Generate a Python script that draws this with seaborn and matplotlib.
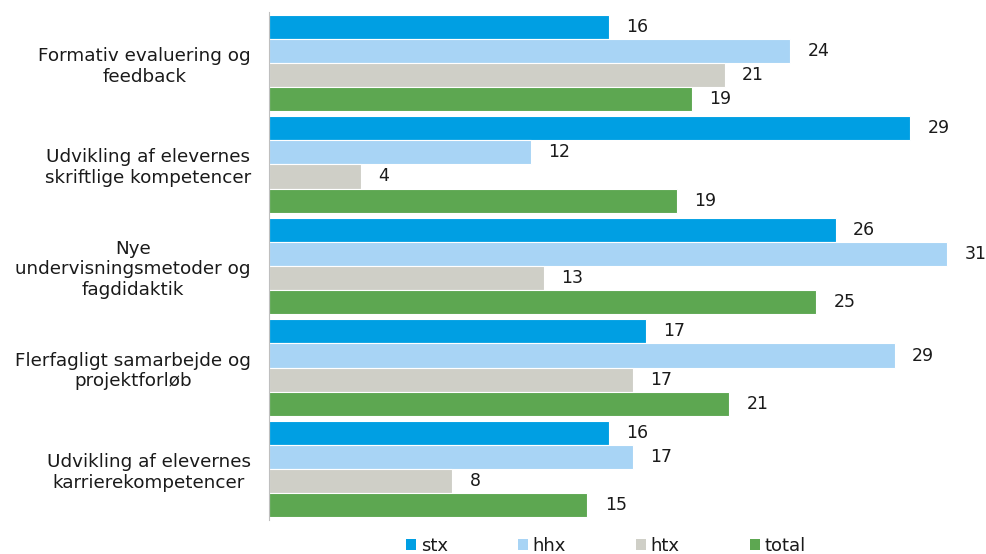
import matplotlib
matplotlib.use("Agg")
import matplotlib.pyplot as plt
import seaborn as sns
import pandas as pd
from matplotlib.patches import Patch

categories = [
    "Formativ evaluering og\nfeedback",
    "Udvikling af elevernes\nskriftlige kompetencer",
    "Nye\nundervisningsmetoder og\nfagdidaktik",
    "Flerfagligt samarbejde og\nprojektforløb",
    "Udvikling af elevernes\nkarrierekompetencer",
]
series = ["stx", "hhx", "htx", "total"]
stx = [15.6, 29.4, 26.0, 17.3, 15.6]
hhx = [23.9, 12.0, 31.1, 28.7, 16.7]
htx = [20.9, 4.2, 12.6, 16.7, 8.4]
total = [19.4, 18.7, 25.1, 21.1, 14.6]
colors = ["#009FE3", "#A8D4F5", "#CFCFC7", "#5DA751"]

rows = []
for s, vals in zip(series, [stx, hhx, htx, total]):
    for c, v in zip(categories, vals):
        rows.append({"cat": c, "series": s, "value": v})
df = pd.DataFrame(rows)

sns.set_theme(style="white")
plt.rcParams["font.family"] = ["DejaVu Sans"]

FS = 13.2
fig = plt.figure(figsize=(9.87, 5.54), dpi=100)
ax = fig.add_axes([269 / 987, 1 - 520 / 554, (982 - 269) / 987, (520 - 12) / 554])

sns.barplot(data=df, y="cat", x="value", hue="series", order=categories,
            hue_order=series, palette=colors, saturation=1, orient="h", width=0.95,
            edgecolor="white", linewidth=0.8, legend=False, ax=ax)

for cont in ax.containers:
    labs = ax.bar_label(cont, labels=[f"{round(v):d}" for v in cont.datavalues],
                        padding=12.5, fontsize=12.5, color="#1a1a1a")
    for t in labs:
        t.set_clip_on(False)

ax.set_xlim(0, (982 - 269) / 21.8)
ax.set_ylim(4.5, -0.5)
ax.set_xlabel("")
ax.set_ylabel("")
ax.set_xticks([])
ax.tick_params(axis="y", length=0, pad=13)
for lab in ax.get_yticklabels():
    lab.set_fontsize(FS)
    lab.set_multialignment("center")
    lab.set_color("#1a1a1a")
for sp in ["top", "right", "bottom"]:
    ax.spines[sp].set_visible(False)
ax.spines["left"].set_color("#BFBFBF")
ax.spines["left"].set_linewidth(0.8)

handles = [Patch(facecolor=c, edgecolor="none") for c in colors]
fig.legend(handles, series, loc="center", bbox_to_anchor=(606 / 987, 1 - 546 / 554),
           ncol=4, frameon=False, fontsize=13, handlelength=0.55, handleheight=0.55,
           handletextpad=0.25, columnspacing=3.9, borderpad=0, labelcolor="#1a1a1a")

fig.savefig("out.png", dpi=100)
